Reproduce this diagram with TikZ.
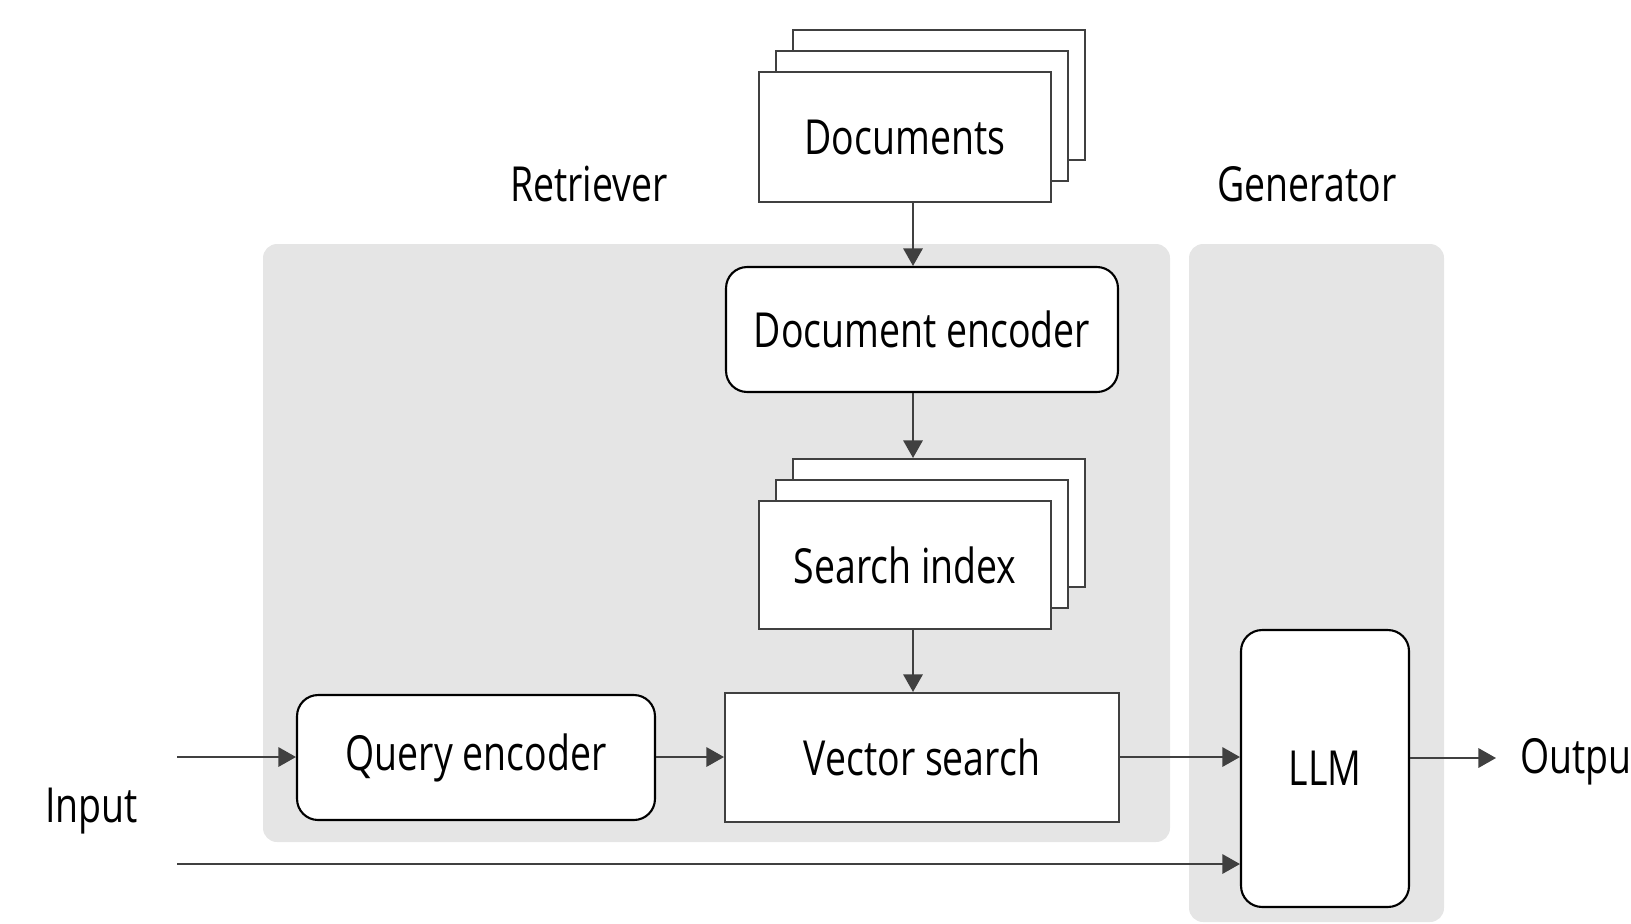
\documentclass[tikz,border=0pt]{standalone}
\usepackage{fontspec}
\setmainfont{Open Sans}[FakeStretch=0.775]
\usetikzlibrary{arrows.meta}
\definecolor{panel}{HTML}{E5E5E5}
\definecolor{ln}{HTML}{404040}
\begin{document}
\begin{tikzpicture}[x=0.02cm,y=-0.02cm,
  panelbox/.style={fill=panel, draw=none, rounded corners=8pt},
  rbox/.style={draw=black, line width=1.2pt, fill=white, rounded corners=12pt, inner sep=0pt},
  sbox/.style={draw=ln, line width=1.2pt, fill=white, inner sep=0pt},
  conn/.style={draw=ln, line width=1.2pt, -{Triangle[length=10pt,width=11pt]}},
  lbl/.style={font=\fontsize{27.5}{30}\selectfont, inner sep=0pt, text=black},
]
\useasboundingbox (0,0) rectangle (1631,923);
% panels
\fill[panelbox] (263,244) rectangle (1170,842);
\fill[panelbox] (1189,244) rectangle (1444,922);
% panel labels
\node[lbl, anchor=base] (rlab) at (589,201) {Retriever};
\node[lbl, anchor=base] (glab) at (1307,201) {Generator};
% documents stack
\node[sbox, minimum width=5.84cm, minimum height=2.6cm] (docs3) at (939,95) {};
\node[sbox, minimum width=5.84cm, minimum height=2.6cm] (docs2) at (922,116) {};
\node[sbox, minimum width=5.84cm, minimum height=2.6cm, lbl] (docs) at (905,137) {Documents};
% document encoder
\node[rbox, minimum width=7.84cm, minimum height=2.5cm, lbl] (denc) at (922,329.5) {Document encoder};
% search index stack
\node[sbox, minimum width=5.84cm, minimum height=2.56cm] (si3) at (939,523) {};
\node[sbox, minimum width=5.84cm, minimum height=2.56cm] (si2) at (922,544) {};
\node[sbox, minimum width=5.84cm, minimum height=2.56cm, lbl] (si) at (905,565) {Search index};
% vector search
\node[sbox, minimum width=7.88cm, minimum height=2.58cm, lbl] (vs) at (922,757.5) {Vector search};
% query encoder
\node[rbox, minimum width=7.16cm, minimum height=2.5cm, lbl] (qenc) at (476,757.5) {Query encoder};
% LLM
\node[rbox, minimum width=3.36cm, minimum height=5.54cm, lbl] (llm) at (1325,768.5) {LLM};
% labels
\node[lbl, anchor=base west] (inlab) at (45,822) {Input};
\node[lbl, anchor=west] (outlab) at (1520,762) {Output};
% coordinates
\coordinate (ax) at (913,0);
\coordinate (in1) at (177,757);
\coordinate (in2) at (177,864);
\coordinate (out) at (1496,758);
% connectors
\draw[conn] (docs.south -| ax) -- (denc.north -| ax);
\draw[conn] (denc.south -| ax) -- (si3.north -| ax);
\draw[conn] (si.south -| ax) -- (vs.north -| ax);
\draw[conn] (in1) -- (qenc.west |- in1);
\draw[conn] (qenc.east |- in1) -- (vs.west |- in1);
\draw[conn] (vs.east |- in1) -- (llm.west |- in1);
\draw[conn] (in2) -- (llm.west |- in2);
\draw[conn] (llm.east |- out) -- (out);
\end{tikzpicture}
\end{document}
